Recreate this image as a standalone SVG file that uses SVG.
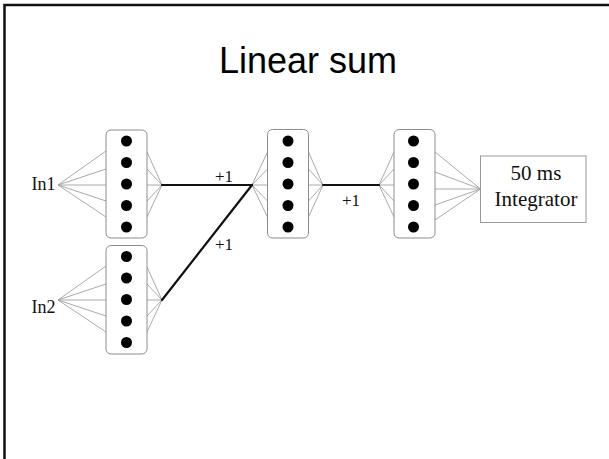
<svg xmlns="http://www.w3.org/2000/svg" width="609" height="459" viewBox="0 0 609 459">
<style>
.frame{stroke:#111;stroke-width:2.5;fill:none}
.layer{fill:#fff;stroke:#8c8c8c;stroke-width:1}
.dot{fill:#000}
.fan{stroke:#a0a0a0;stroke-width:0.9;fill:none}
.conn{stroke:#111;stroke-width:2.2;fill:none;stroke-linecap:round}
.serif{font-family:"Liberation Serif","Times New Roman",serif;fill:#111}
.title{font-family:"Liberation Sans",Arial,sans-serif;font-size:36px;fill:#000}
.box{fill:#fff;stroke:#999;stroke-width:1}
</style>
<defs>
<g id="dots">
<circle class="dot" cx="0" cy="-43" r="5.5"/>
<circle class="dot" cx="0" cy="-21.5" r="5.5"/>
<circle class="dot" cx="0" cy="0" r="5.5"/>
<circle class="dot" cx="0" cy="21.5" r="5.5"/>
<circle class="dot" cx="0" cy="43" r="5.5"/>
</g>
</defs>
<rect width="609" height="459" fill="#fff"/>
<path class="frame" d="M4.5,459 V5 H609"/>
<g id="title"><text class="title" x="308" y="73" text-anchor="middle">Linear sum</text></g>

<g id="connectors">
<path class="fan" d="M58,185 L106,151 M58,185 L106,169 M58,185 L106,185 M58,185 L106,201 M58,185 L106,217"/>
<path class="fan" d="M147,152 L162,185 M147,169 L162,185 M147,185 L162,185 M147,201 L162,185 M147,217 L162,185"/>
<path class="fan" d="M58,300 L106,266 M58,300 L106,284 M58,300 L106,300 M58,300 L106,316 M58,300 L106,332"/>
<path class="fan" d="M147,267 L162,300 M147,284 L162,300 M147,300 L162,300 M147,316 L162,300 M147,332 L162,300"/>
<path class="fan" d="M252,185 L267.5,152 M252,185 L267.5,169 M252,185 L267.5,185 M252,185 L267.5,201 M252,185 L267.5,217"/>
<path class="fan" d="M308.5,152 L323,185 M308.5,169 L323,185 M308.5,185 L323,185 M308.5,201 L323,185 M308.5,217 L323,185"/>
<path class="fan" d="M379,185 L394,152 M379,185 L394,169 M379,185 L394,185 M379,185 L394,201 M379,185 L394,217"/>
<path class="fan" d="M435,152 L480.5,189 M435,172 L480.5,189 M435,189 L480.5,189 M435,205 L480.5,189 M435,220 L480.5,189"/>
<path class="conn" d="M162,185 L252,185"/>
<path class="conn" d="M162,300 L252,185"/>
<path class="conn" d="M323,185 L379,185"/>
<text class="serif" x="224" y="182" font-size="17" text-anchor="middle">+1</text>
<text class="serif" x="224" y="249.5" font-size="17" text-anchor="middle">+1</text>
<text class="serif" x="351" y="206" font-size="17" text-anchor="middle">+1</text>
</g>

<g id="in1"><text class="serif" x="43.5" y="190" font-size="18" text-anchor="middle">In1</text></g>
<g id="in2"><text class="serif" x="43.5" y="313" font-size="18" text-anchor="middle">In2</text></g>

<g id="layer1">
<rect class="layer" x="106" y="130" width="41" height="108" rx="5"/>
<use href="#dots" x="126.5" y="184"/>
</g>
<g id="layer2">
<rect class="layer" x="106" y="245.5" width="41" height="108.5" rx="5"/>
<use href="#dots" x="126.5" y="299.5"/>
</g>
<g id="layer3">
<rect class="layer" x="267.5" y="129.5" width="41" height="108.5" rx="5"/>
<use href="#dots" x="288" y="184"/>
</g>
<g id="layer4">
<rect class="layer" x="394" y="129.5" width="41" height="108.5" rx="5"/>
<use href="#dots" x="413.5" y="184"/>
</g>
<g id="integrator">
<rect class="box" x="480.5" y="156" width="105.5" height="66.5"/>
<text class="serif" x="536" y="179.5" font-size="21" text-anchor="middle">50 ms</text>
<text class="serif" x="536" y="206" font-size="21" text-anchor="middle">Integrator</text>
</g>
</svg>
